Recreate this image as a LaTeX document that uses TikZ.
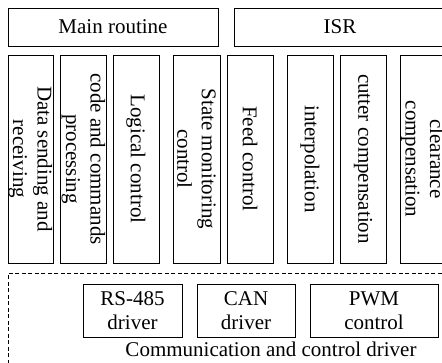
\documentclass[tikz,border=0pt]{standalone}
\usepackage{fontspec}
\setmainfont{Liberation Serif}
\begin{document}
\begin{tikzpicture}[x=1pt,y=-1pt,
  every node/.style={font=\fontsize{21}{24.5}\selectfont},
  hbox/.style={draw, line width=0.8pt, rectangle, inner sep=0pt, minimum height=38pt},
  vbox/.style={draw, line width=0.8pt, rectangle, inner sep=0pt, rotate=-90, align=center,
               minimum width=208pt, minimum height=46pt},
  dbox/.style={draw, line width=0.8pt, rectangle, inner sep=0pt, align=center,
               minimum height=53pt},
  dashbox/.style={draw, line width=0.8pt, dash pattern=on 4pt off 2.5pt}
]
\clip (0,0) rectangle (442,363);
\fill[white] (0,0) rectangle (442,363);

\node[hbox, minimum width=210pt] (main) at (113,27) {Main routine};
\node[hbox, minimum width=212pt] (isr) at (340,27) {ISR};

\node[vbox, minimum height=45pt] (data) at (30.5,159) {Data sending and\\receiving};
\node[vbox] (code) at (83.5,159) {code and commands\\processing};
\node[vbox] (logic) at (136,159) {Logical control};
\node[vbox, minimum height=47pt] (state) at (196.5,159) {State monitoring\\control};
\node[vbox] (feed) at (250,159) {Feed control};
\node[vbox] (interp) at (310,159) {interpolation};
\node[vbox] (cutter) at (363,159) {cutter compensation};
\node[vbox] (clear) at (423,159) {clearance\\compensation};

\node[dashbox, minimum width=438pt, minimum height=110pt, anchor=north west] (drv) at (8,273) {};
\node[dbox, minimum width=99pt] (rs) at (132.5,310.5) {RS-485\\driver};
\node[dbox, minimum width=98pt] (can) at (246,310.5) {CAN\\driver};
\node[dbox, minimum width=128pt] (pwm) at (374,310.5) {PWM\\control};
\node[anchor=base] (drvlabel) at (271,357) {Communication and control driver};
\end{tikzpicture}
\end{document}
